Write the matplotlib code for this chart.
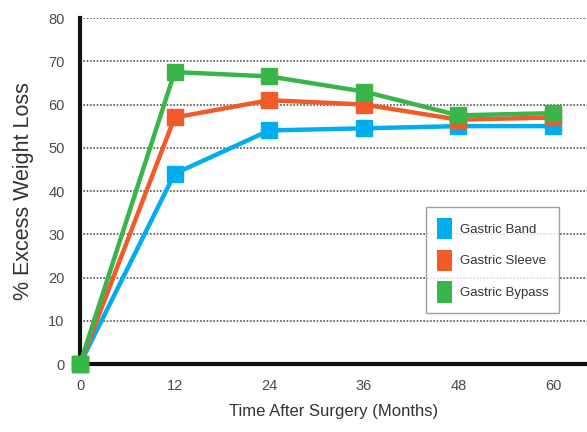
import matplotlib
matplotlib.use("Agg")
import matplotlib.pyplot as plt
from matplotlib.patches import Patch

months = [0, 12, 24, 36, 48, 60]
band = [0, 44, 54, 54.5, 55, 55]
sleeve = [0, 57, 61, 60, 56.5, 57]
bypass = [0, 67.5, 66.5, 63, 57.5, 58]
series_names = ["Gastric Band", "Gastric Sleeve", "Gastric Bypass"]
y_ticks = [0, 10, 20, 30, 40, 50, 60, 70, 80]

colors = ["#00AEEF", "#F15A29", "#39B54A"]

plt.rcParams["font.family"] = ["Liberation Sans", "DejaVu Sans"]

fig = plt.figure(figsize=(5.87, 4.32), dpi=100)
ax = fig.add_axes([0.1363, 0.1574, 0.8637, 0.8009])

for vals, c, z in zip([band, sleeve, bypass], colors, [3, 4, 5]):
    ax.plot(months, vals, color=c, lw=3.2, marker="s", markersize=11,
            clip_on=False, zorder=z)

ax.set_xlim(0, 64.3)
ax.set_ylim(0, 80)
ax.set_xticks(months)
ax.set_yticks(y_ticks)
ax.tick_params(length=0, labelsize=10.5, labelcolor="#4a4a4a")
ax.tick_params(axis="y", pad=11)
ax.tick_params(axis="x", pad=11)
ax.grid(axis="y", linestyle=(0, (1, 1)), color="#555555", lw=1.2)
ax.set_axisbelow(True)
for s in ["top", "right"]:
    ax.spines[s].set_visible(False)
for s in ["left", "bottom"]:
    ax.spines[s].set_linewidth(3)
    ax.spines[s].set_color("#111111")
    ax.spines[s].set_zorder(2.5)

ax.set_xlabel("Time After Surgery (Months)", fontsize=12, color="#333333", labelpad=8)
ax.set_ylabel("% Excess Weight Loss", fontsize=15.5, color="#333333", labelpad=10)

handles = [Patch(facecolor=c, edgecolor="none") for c in colors]
leg = ax.legend(handles, series_names, loc="lower right",
                bbox_to_anchor=(0.945, 0.147), borderaxespad=0,
                fontsize=9.5, frameon=True,
                fancybox=False, edgecolor="#888888", handlelength=1.15,
                handleheight=2.1, borderpad=0.8, labelspacing=0.8,
                handletextpad=0.6)
leg.get_frame().set_linewidth(1.0)
for t in leg.get_texts():
    t.set_color("#333333")

fig.savefig("out.png", dpi=100)
